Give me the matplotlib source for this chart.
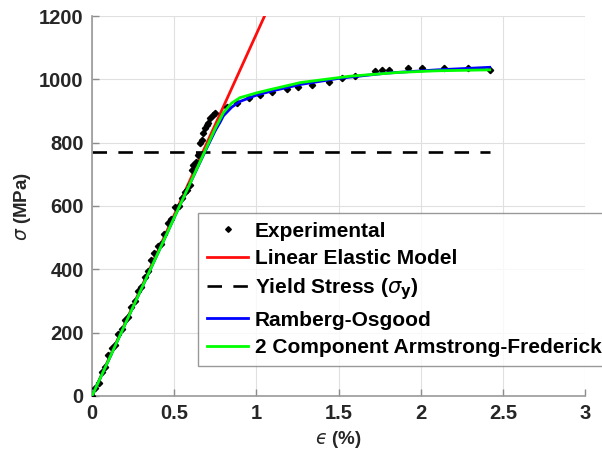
import matplotlib
matplotlib.use("Agg")
import matplotlib.pyplot as plt

plt.rcParams['font.family'] = ['Liberation Sans', 'DejaVu Sans']
plt.rcParams['mathtext.fontset'] = 'dejavusans'

# Experimental tensile test data: strain (%) and stress (MPa)
exp_strain = [0.00, 0.02, 0.04, 0.06, 0.08, 0.10, 0.12, 0.14, 0.16, 0.18,
              0.20, 0.22, 0.24, 0.26, 0.28, 0.30, 0.32, 0.34, 0.36, 0.38,
              0.40, 0.42, 0.44, 0.46, 0.48, 0.505, 0.53, 0.55, 0.566, 0.58,
              0.596, 0.608, 0.615, 0.63, 0.645, 0.657, 0.668, 0.676, 0.688, 0.70,
              0.706, 0.718, 0.736, 0.749, 0.82, 0.88, 0.955, 1.02, 1.095, 1.187,
              1.254, 1.34, 1.44, 1.52, 1.60, 1.72, 1.765, 1.81, 1.92, 2.01,
              2.14, 2.29, 2.42]
exp_stress = [0, 25, 40, 75, 90, 130, 150, 160, 195, 210,
              240, 250, 280, 300, 330, 345, 375, 395, 430, 450,
              475, 480, 510, 545, 560, 597, 600, 625, 644, 650,
              666, 714, 729, 740, 761, 799, 810, 830, 846, 855,
              862, 878, 887, 894, 913, 925, 941, 950, 960, 969,
              976, 983, 991, 1004, 1010, 1026, 1029, 1029, 1036, 1036,
              1036, 1036, 1030]

# Linear elastic model (end points of the straight line)
lin_strain = [0.0, 1.10]
lin_stress = [0.0, 1257.0]

# Yield stress level
yield_strain = [0.0, 2.42]
yield_stress = [772.0, 772.0]

# Ramberg-Osgood fit
ro_strain = [0.0, 0.1, 0.2, 0.3, 0.4, 0.5, 0.6, 0.7, 0.75, 0.78, 0.8, 0.85,
             0.9, 1.0, 1.1, 1.27, 1.5, 1.8, 2.1, 2.42]
ro_stress = [0, 112, 225, 338, 450, 563, 675, 785, 838, 865, 885, 912,
             930, 950, 964, 984, 1003, 1020, 1030, 1038]

# Two-component Armstrong-Frederick fit
af_strain = [0.0, 0.1, 0.2, 0.3, 0.4, 0.5, 0.6, 0.7, 0.75, 0.78, 0.8, 0.85,
             0.9, 1.0, 1.07, 1.27, 1.57, 1.87, 2.1, 2.42]
af_stress = [0, 112, 225, 338, 450, 563, 675, 788, 845, 875, 895, 925,
             942, 957, 966, 990, 1010, 1022, 1027, 1030]

fig = plt.figure(figsize=(6.02, 4.59), dpi=100)
ax = fig.add_axes([0.1528, 0.1373, 0.8190, 0.8278])

ax.plot(exp_strain, exp_stress, 'D', color='black', ms=3.2, label='Experimental', zorder=3)
ax.plot(lin_strain, lin_stress, '-', color=(1, 0.05, 0.05), lw=2.0, label='Linear Elastic Model', zorder=2)
ax.plot(yield_strain, yield_stress, '--', color='black', lw=1.9, dashes=(5.5, 4.3),
        label=r'Yield Stress ($\sigma_{\mathbf{y}}$)', zorder=2)
ax.plot(ro_strain, ro_stress, '-', color=(0, 0, 1), lw=2.0, label='Ramberg-Osgood', zorder=4)
ax.plot(af_strain, af_stress, '-', color=(0, 1, 0), lw=2.0,
        label='2 Component Armstrong-Frederick', zorder=5)

ax.set_xlim(0, 3)
ax.set_ylim(0, 1200)
ax.set_xticks([0, 0.5, 1, 1.5, 2, 2.5, 3])
ax.set_xticklabels(['0', '0.5', '1', '1.5', '2', '2.5', '3'])
ax.set_yticks(range(0, 1201, 200))

for side in ('top', 'right'):
    ax.spines[side].set_visible(False)
for side in ('left', 'bottom'):
    ax.spines[side].set_color('0.6')
    ax.spines[side].set_linewidth(1.2)

ax.grid(True, color='0.88', lw=0.8)
ax.set_axisbelow(True)
ax.tick_params(direction='in', length=5, width=1, color='0.55', labelsize=14.5,
               labelcolor='0.15', pad=6)
for lbl in ax.get_xticklabels() + ax.get_yticklabels():
    lbl.set_fontweight('bold')

ax.set_xlabel('$\u03f5$ (%)', fontsize=13.5, fontweight='bold', color='0.15', labelpad=4)
ax.set_ylabel(r'$\sigma$ (MPa)', fontsize=13.5, fontweight='bold', color='0.15', labelpad=4)

leg = ax.legend(loc='upper left', bbox_to_anchor=(198 / 602, 1 - 213 / 459),
                bbox_transform=fig.transFigure,
                prop={'weight': 'bold', 'size': 15}, frameon=True, fancybox=False,
                handlelength=2.0, handletextpad=0.3, borderpad=0.42, labelspacing=0.4,
                borderaxespad=0, markerscale=0.9)
leg.get_frame().set_edgecolor('0.5')
leg.get_frame().set_linewidth(1.0)

fig.savefig('out.png', dpi=100)
